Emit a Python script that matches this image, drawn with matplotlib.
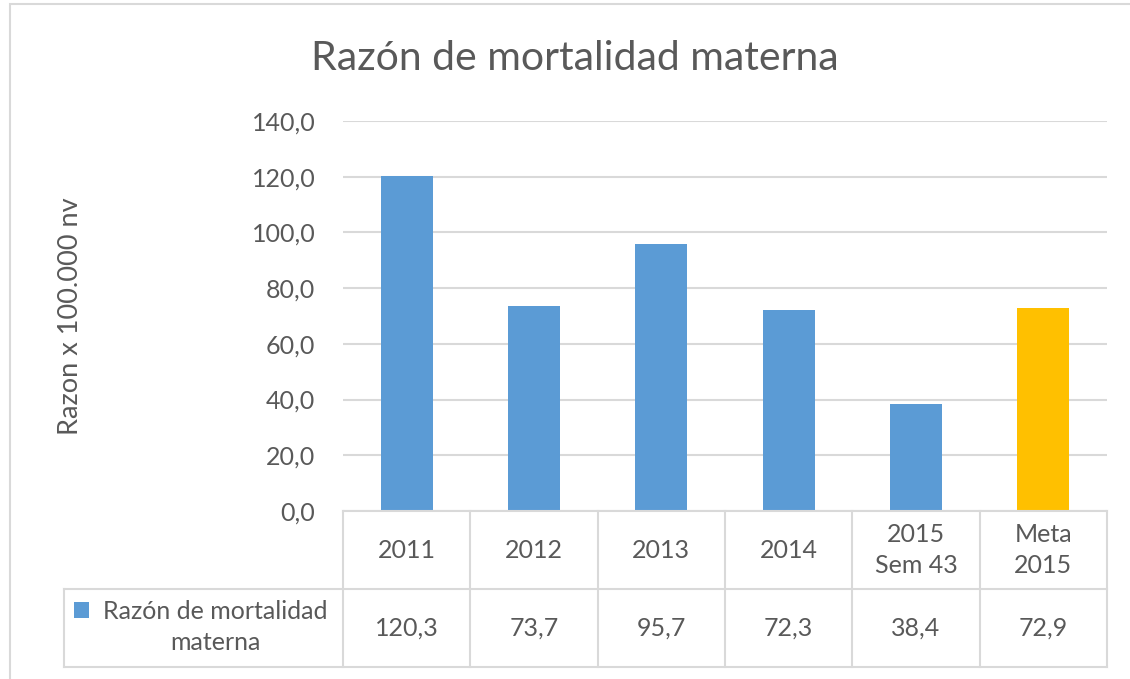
import matplotlib.pyplot as plt
from matplotlib.patches import Rectangle
from matplotlib.lines import Line2D

plt.rcParams['font.family'] = ['Lato', 'DejaVu Sans']

# data
categories = ['2011', '2012', '2013', '2014', '2015\nSem 43', 'Meta\n2015']
values = [120.3, 73.7, 95.7, 72.3, 38.4, 72.9]
value_labels = ['120,3', '73,7', '95,7', '72,3', '38,4', '72,9']
bar_colors = ['#5B9BD5'] * 5 + ['#FFC000']
yticks = [0, 20, 40, 60, 80, 100, 120, 140]
ytick_labels = ['0,0', '20,0', '40,0', '60,0', '80,0', '100,0', '120,0', '140,0']
series_name = 'Razón de mortalidad\nmaterna'

text_col = '#595959'
grid_col = '#d9d9d9'
fs = 18

W, H = 1130, 679
fig = plt.figure(figsize=(W / 100, H / 100), dpi=100)

# outer chart border
fig.patches.append(Rectangle((10 / W, -0.01), 1.1, (H - 4) / H + 0.01, transform=fig.transFigure,
                             fill=False, edgecolor=grid_col, linewidth=1.5))

# main plot area
ax = fig.add_axes([343 / W, (H - 511) / H, 764 / W, 390 / H])
x = list(range(len(categories)))
ax.bar(x, values, width=0.41, color=bar_colors, zorder=3)
ax.set_xlim(-0.5, len(categories) - 0.5)
ax.set_ylim(0, 140)
ax.set_yticks(yticks)
ax.set_yticklabels(ytick_labels, fontsize=fs, color=text_col)
ax.set_xticks([])
ax.tick_params(axis='y', length=0, pad=20)
ax.grid(axis='y', color=grid_col, linewidth=1.5, zorder=0)
for s in ax.spines.values():
    s.set_visible(False)
ax.set_facecolor('none')

fig.text(70 / W, 1 - 316 / H, 'Razon x 100.000 nv', rotation=90, ha='center', va='center',
         fontsize=19.5, color=text_col)
fig.text(575 / W, 1 - 58 / H, 'Razón de mortalidad materna', ha='center', va='center',
         fontsize=29.5, color=text_col)

# data table under the axis
tb = fig.add_axes([343 / W, (H - 667) / H, 764 / W, 156 / H])
tb.set_xlim(-0.5, len(categories) - 0.5)
tb.set_ylim(0, 2)
tb.axis('off')
legend_left = -0.5 - 279 / (764 / len(categories))

def tline(xs, ys):
    tb.add_line(Line2D(xs, ys, color=grid_col, linewidth=1.5, clip_on=False))

n = len(categories)
tline([-0.5, n - 0.5], [2, 2])
tline([legend_left, n - 0.5], [1, 1])
tline([legend_left, n - 0.5], [0, 0])
tline([legend_left, legend_left], [0, 1])
for i in range(n + 1):
    tline([i - 0.5, i - 0.5], [0, 2])

for i, (c, v) in enumerate(zip(categories, value_labels)):
    tb.text(i, 1.5, c, ha='center', va='center', fontsize=fs, color=text_col, linespacing=1.45)
    tb.text(i, 0.5, v, ha='center', va='center', fontsize=fs, color=text_col)

fig.text(215 / W, 1 - 627 / H, series_name, ha='center', va='center', fontsize=fs,
         color=text_col, linespacing=1.45)
fig.patches.append(Rectangle((74 / W, 1 - 618 / H), 15 / W, 16 / H, transform=fig.transFigure,
                             facecolor='#5B9BD5', edgecolor='none'))

fig.savefig('out.png', dpi=100)
